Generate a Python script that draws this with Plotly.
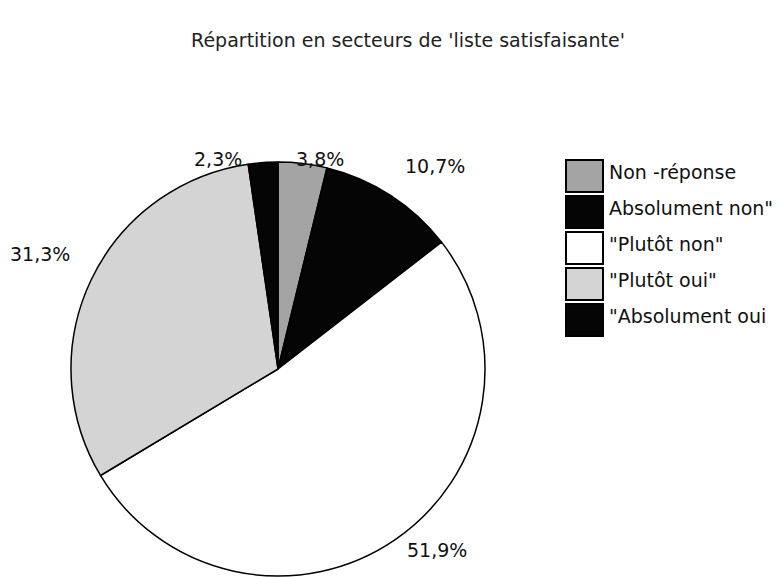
import plotly.graph_objects as go

title = "Répartition en secteurs de 'liste satisfaisante'"
categories = ["Non -réponse", "Absolument non\"", "\"Plutôt non\"", "\"Plutôt oui\"", "\"Absolument oui"]
values = [3.8, 10.7, 51.9, 31.3, 2.3]
pct_labels = ["3,8%", "10,7%", "51,9%", "31,3%", "2,3%"]
colors = ["#a4a4a4", "#050505", "#ffffff", "#d4d4d4", "#050505"]

W, H = 780, 577
OFF = 8  # page body margin


def px(sx):
    return (sx - OFF) / W


def py(sy):
    return 1 - (sy - OFF) / H


# label centres in screen pixels
label_pos = [(320, 159), (435, 166), (437, 550), (40, 254), (218, 159)]

fig = go.Figure()
cx, cy, r = 278, 369, 207
fig.add_trace(go.Pie(
    labels=categories, values=values, sort=False, direction="clockwise", rotation=0,
    marker=dict(colors=colors, line=dict(color="black", width=1.5)),
    textinfo="none", hoverinfo="label+percent", showlegend=False,
    domain=dict(x=[px(cx - r), px(cx + r)], y=[py(cy + r), py(cy - r)]),
))

font_main = "DejaVu Sans, Liberation Sans, sans-serif"
for txt, (x, y) in zip(pct_labels, label_pos):
    fig.add_annotation(x=px(x), y=py(y), xref="paper", yref="paper", text=txt, showarrow=False,
                       xanchor="center", yanchor="middle",
                       font=dict(size=19, color="#111", family=font_main))

# manual legend
bx0, bx1 = 566, 603
row_tops = [160, 196, 232, 268, 304]
bh = 32
for cat, col, top in zip(categories, colors, row_tops):
    fig.add_shape(type="rect", xref="paper", yref="paper",
                  x0=px(bx0), x1=px(bx1), y0=py(top + bh), y1=py(top),
                  fillcolor=col, line=dict(color="black", width=2))
    fig.add_annotation(x=px(607), y=py(top + bh / 2 - 4), xref="paper", yref="paper",
                       text=cat, showarrow=False, xanchor="left", yanchor="middle",
                       font=dict(size=19, color="#111", family=font_main))

fig.update_layout(
    width=W, height=H, margin=dict(l=0, r=0, t=0, b=0),
    paper_bgcolor="white", plot_bgcolor="white",
    title=dict(text=title, x=px(408), xanchor="center", y=py(40), yanchor="middle",
               font=dict(size=19, color="#222", family=font_main)),
)
fig.write_html("out.html")
